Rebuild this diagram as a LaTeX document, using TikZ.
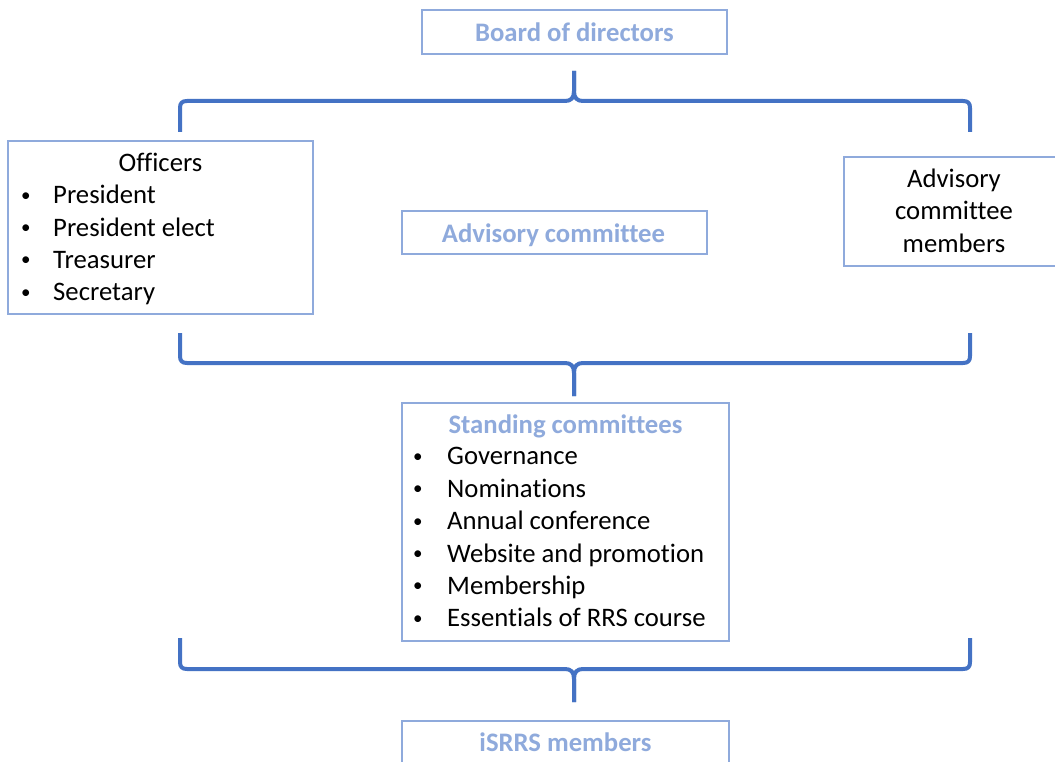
\documentclass[tikz,border=0pt]{standalone}
\usepackage{fontspec}
\setmainfont{Carlito}[Ligatures=CommonOff]
\definecolor{boxblue}{HTML}{8FAADC}
\definecolor{braceblue}{HTML}{4472C4}
\newcommand{\smallbul}{\raisebox{2.6pt}{\fontsize{19}{19}\selectfont\textbullet}}
\begin{document}
\begin{tikzpicture}[x=1pt,y=-1pt,
  box/.style={draw=boxblue, line width=1.3pt, fill=none, inner sep=0pt},
  txt/.style={font=\fontsize{26.7}{32.3}\selectfont, inner sep=0pt, text=black},
  title/.style={txt, font=\fontsize{26.7}{32.3}\selectfont\bfseries, text=boxblue},
  bracepath/.style={draw=braceblue, line width=4pt, line cap=butt, line join=round}]
\useasboundingbox (0,0) rectangle (1055,762);
\fill[white] (0,0) rectangle (1055,762);
% boxes
\node[box, minimum width=305, minimum height=44] (board) at (574.5,32) {};
\node[box, minimum width=305, minimum height=173] (officers) at (160.5,227.5) {};
\node[box, minimum width=305, minimum height=43] (advisory) at (554.5,232.5) {};
\node[box, minimum width=220, minimum height=109] (members) at (954,211.5) {};
\node[box, minimum width=327, minimum height=238] (standing) at (565.5,522) {};
\node[box, minimum width=327, minimum height=60] (isrrs) at (565.5,751) {};
% texts
\node[title, anchor=base] (boardt) at (574.5,42) {Board of directors};
\node[title, anchor=base] (advisoryt) at (553.5,243) {Advisory committee};
\node[title, anchor=base] (standingt) at (565.5,433) {Standing committees};
\node[title, anchor=base] (isrrst) at (565.5,751) {iSRRS members};
\node[txt, anchor=base] (officerst) at (160.5,172) {Officers};
\foreach \t [count=\i] in {President, President elect, Treasurer, Secretary}{
  \node[txt, anchor=base west] (off\i) at (21,{171.5+32.3*\i}) {\makebox[32pt][l]{\smallbul}\t};
}
\foreach \t [count=\i] in {Governance, Nominations, Annual conference, Website and promotion, Membership, Essentials of RRS course}{
  \node[txt, anchor=base west] (sc\i) at (413,{432.5+32.4*\i}) {\makebox[34pt][l]{\smallbul}\t};
}
\node[txt, anchor=base] (mem1) at (954,188) {Advisory};
\node[txt, anchor=base] (mem2) at (954,220) {committee};
\node[txt, anchor=base] (mem3) at (954,252) {members};
% braces
\coordinate (tip1) at (574,71);
\coordinate (tip2) at (574,396);
\coordinate (tip3) at (574,702);
\path[bracepath] (180,132) -- (180,108) .. controls (180,103) and (182,101) .. (187,101) -- (565,101) .. controls (571,101) and (574,98) .. (574,91) -- (tip1);
\path[bracepath] (970,132) -- (970,108) .. controls (970,103) and (968,101) .. (963,101) -- (583,101) .. controls (577,101) and (574,98) .. (574,91) -- (tip1);
\path[bracepath] (180,333) -- (180,356) .. controls (180,361) and (182,363) .. (187,363) -- (565,363) .. controls (571,363) and (574,366) .. (574,373) -- (tip2);
\path[bracepath] (970,333) -- (970,356) .. controls (970,361) and (968,363) .. (963,363) -- (583,363) .. controls (577,363) and (574,366) .. (574,373) -- (tip2);
\path[bracepath] (180,638) -- (180,662) .. controls (180,667) and (182,669) .. (187,669) -- (565,669) .. controls (571,669) and (574,672) .. (574,679) -- (tip3);
\path[bracepath] (970,638) -- (970,662) .. controls (970,667) and (968,669) .. (963,669) -- (583,669) .. controls (577,669) and (574,672) .. (574,679) -- (tip3);
\end{tikzpicture}
\end{document}
